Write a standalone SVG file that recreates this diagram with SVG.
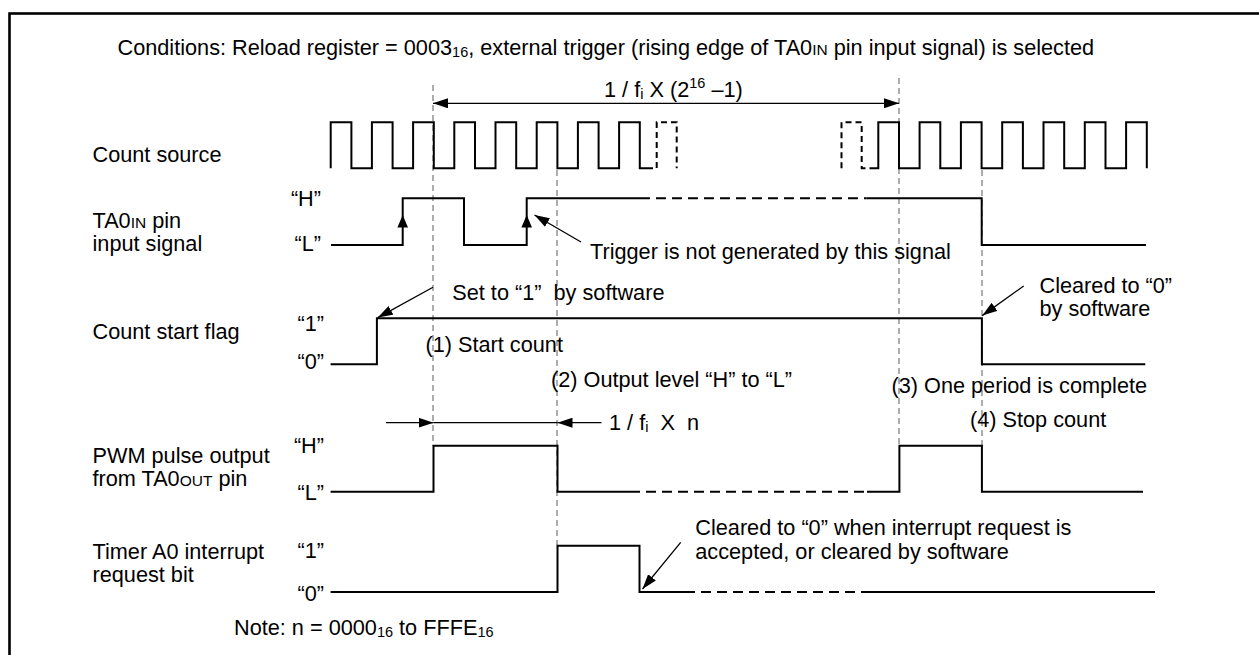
<svg xmlns="http://www.w3.org/2000/svg" width="1259" height="655" viewBox="0 0 1259 655">
<style>
text{font-family:"Liberation Sans",Arial,Helvetica,sans-serif;font-size:21.7px;fill:#000}
.sm{font-size:14.5px}
.sc{font-size:15.5px}
.lvl{text-anchor:end}
.sig{fill:none;stroke:#000;stroke-width:2}
.dsh{fill:none;stroke:#000;stroke-width:2;stroke-dasharray:10 6}
.cdsh{fill:none;stroke:#000;stroke-width:2;stroke-dasharray:6 4}
.guide{fill:none;stroke:#777;stroke-width:1.2;stroke-dasharray:6 4}
.thin{fill:none;stroke:#000;stroke-width:1.3}
.head{fill:#000}
</style>
<defs>
<marker id="ah" markerUnits="userSpaceOnUse" markerWidth="16" markerHeight="10" refX="15" refY="5" orient="auto-start-reverse"><path d="M0,0 L15,5 L0,10 z" fill="#000"/></marker>
</defs>
<rect x="0" y="0" width="1259" height="655" fill="#fff"/>
<rect x="9.5" y="13.5" width="1300" height="700" fill="none" stroke="#000" stroke-width="2.6"/>

<g id="guides">
<line class="guide" x1="433" y1="85" x2="433" y2="446"/>
<line class="guide" x1="557" y1="170" x2="557" y2="545"/>
<line class="guide" x1="899" y1="78" x2="899" y2="446"/>
<line class="guide" x1="982" y1="170" x2="982" y2="446"/>
</g>

<g id="conditions">
<text x="117.5" y="55">Conditions: Reload register = 0003<tspan class="sm" dy="1.5">16</tspan><tspan dy="-1.5">, external trigger (rising edge of TA0</tspan><tspan class="sc">IN</tspan> pin input signal) is selected</text>
</g>

<g id="period">
<line class="thin" x1="433" y1="103.3" x2="899" y2="103.3" marker-start="url(#ah)" marker-end="url(#ah)"/>
<text x="604" y="97">1 / f<tspan class="sm" dy="2">i</tspan><tspan dy="-2"> X (2</tspan><tspan class="sm" dy="-9">16</tspan><tspan dy="9"> –1)</tspan></text>
</g>

<g id="count-source">
<text x="92.5" y="162">Count source</text>
<path class="sig" d="M330.7,168.3 V122.3 H351.4 V168.3 H371.9 V122.3 H392.6 V168.3 H413.1 V122.3 H433.8 V168.3 H454.3 V122.3 H475 V168.3 H495.5 V122.3 H516.2 V168.3 H536.7 V122.3 H557.4 V168.3 H577.9 V122.3 H598.6 V168.3 H619.1 V122.3 H639.8 V168.3 H647"/>
<path class="cdsh" d="M647,168.3 H656.7 V122.3 H676.7 V168.3"/>
<path class="cdsh" d="M841.5,168.3 V122.3 H861.7 V168.3 H870"/>
<path class="sig" d="M870,168.3 H878.3 V122.3 H899 V168.3 H919.6 V122.3 H940.3 V168.3 H960.9 V122.3 H981.6 V168.3 H1002.2 V122.3 H1022.9 V168.3 H1043.5 V122.3 H1064.2 V168.3 H1084.8 V122.3 H1105.5 V168.3 H1126.1 V122.3 H1146.8 V168.3"/>
</g>

<g id="ta0in">
<text x="92.5" y="228">TA0<tspan class="sc">IN</tspan> pin</text>
<text x="92.5" y="251">input signal</text>
<text class="lvl" x="321" y="206">“H”</text>
<text class="lvl" x="321" y="251">“L”</text>
<path class="sig" d="M331,245 H402.7 V198.3 H464 V245 H526.7 V198.3 H640"/>
<path class="dsh" d="M640,198.3 H866.7"/>
<path class="sig" d="M866.7,198.3 H981.7 V245 H1146"/>
<polygon class="head" points="402.7,215 397.4,227.5 408,227.5"/>
<polygon class="head" points="526.7,215 521.4,227.5 532,227.5"/>
<line class="thin" x1="581" y1="242" x2="534.5" y2="215" marker-end="url(#ah)"/>
<text x="590" y="259">Trigger is not generated by this signal</text>
</g>

<g id="count-start-flag">
<text x="92.5" y="339">Count start flag</text>
<text class="lvl" x="324" y="331">“1”</text>
<text class="lvl" x="324" y="369">“0”</text>
<path class="sig" d="M330.6,364.3 H376.9 V318.3 H981.9 V364.3 H1145.3"/>
<line class="thin" x1="433" y1="287.3" x2="377.8" y2="317.6" marker-end="url(#ah)"/>
<text x="452.3" y="300">Set to “1”&#160; by software</text>
<line class="thin" x1="1023.7" y1="286" x2="982.3" y2="315.6" marker-end="url(#ah)"/>
<text x="1039.5" y="293">Cleared to “0”</text>
<text x="1039.5" y="316">by software</text>
<text x="425.5" y="352">(1) Start count</text>
<text x="551" y="387">(2) Output level “H” to “L”</text>
<text x="891.5" y="393">(3) One period is complete</text>
<text x="970" y="427">(4) Stop count</text>
</g>

<g id="width-n">
<line class="thin" x1="386" y1="422.7" x2="433.5" y2="422.7" marker-end="url(#ah)"/>
<line class="thin" x1="433.5" y1="422.7" x2="557.5" y2="422.7"/>
<line class="thin" x1="601.5" y1="422.7" x2="557.5" y2="422.7" marker-end="url(#ah)"/>
<text x="609" y="430">1 / f<tspan class="sm" dy="2">i</tspan><tspan dy="-2">&#160; X&#160; n</tspan></text>
</g>

<g id="pwm">
<text x="92.5" y="463">PWM pulse output</text>
<text x="92.5" y="486">from TA0<tspan class="sc">OUT</tspan> pin</text>
<text class="lvl" x="324" y="453">“H”</text>
<text class="lvl" x="324" y="500">“L”</text>
<path class="sig" d="M330.6,491.7 H433.5 V445.7 H557.5 V491.7 H630"/>
<path class="dsh" d="M630,491.7 H867"/>
<path class="sig" d="M867,491.7 H899.4 V445.7 H981.9 V491.7 H1143"/>
</g>

<g id="timer-irq">
<text x="92.5" y="559">Timer A0 interrupt</text>
<text x="92.5" y="582">request bit</text>
<text class="lvl" x="324" y="558">“1”</text>
<text class="lvl" x="324" y="601">“0”</text>
<path class="sig" d="M330.6,592 H557.5 V545.7 H639.5 V592 H685"/>
<path class="dsh" d="M685,592 H863"/>
<path class="sig" d="M863,592 H1155"/>
<line class="thin" x1="680.7" y1="542.3" x2="642.5" y2="589" marker-end="url(#ah)"/>
<text x="695.3" y="535">Cleared to “0” when interrupt request is</text>
<text x="695.3" y="559">accepted, or cleared by software</text>
</g>

<g id="note">
<text x="234" y="635">Note: n = 0000<tspan class="sm" dy="1.5">16</tspan><tspan dy="-1.5"> to FFFE</tspan><tspan class="sm" dy="1.5">16</tspan></text>
</g>
</svg>
